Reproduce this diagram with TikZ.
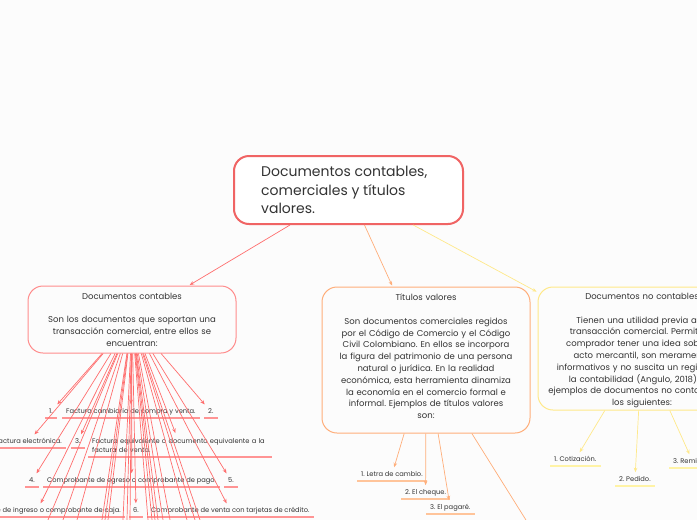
\documentclass[tikz,border=0pt]{standalone}
\usepackage{fontspec}
\setmainfont{Poppins}
\usetikzlibrary{arrows.meta}
\frenchspacing
\definecolor{bg}{HTML}{FCFCFC}
\definecolor{txt}{HTML}{333333}
\definecolor{cred}{HTML}{F06464}
\definecolor{lred}{HTML}{FF6E6E}
\definecolor{ured}{HTML}{FF9494}
\definecolor{bred}{HTML}{FF8C8C}
\definecolor{corg}{HTML}{FFAE7A}
\definecolor{uorg}{HTML}{FFC49A}
\definecolor{cyel}{HTML}{FFE98A}
\definecolor{uyel}{HTML}{FFF3A6}
\tikzset{
  mainbox/.style={draw=cred, line width=2pt, rounded corners=15pt, fill=white,
    minimum width=229pt, minimum height=68pt, inner sep=0pt},
  subbox/.style={draw=#1, line width=1pt, rounded corners=15pt, fill=bg,
    text width=200pt, inner xsep=4pt, inner ysep=0pt, align=center, text=txt,
    font=\fontsize{8.5}{11.8}\selectfont},
  boxtext/.style={text width=200pt, inner sep=0pt, align=center, text=txt,
    font=\fontsize{8.5}{11.8}\selectfont},
  lbl/.style={anchor=south west, inner xsep=4pt, inner ysep=3pt, text depth=1.6pt,
    text height=4.8pt, text=txt, font=\fontsize{6.7}{9.5}\selectfont},
  lblm/.style={anchor=south west, inner xsep=4pt, inner ysep=4pt,
    text=txt, align=left, font=\fontsize{6.7}{9.5}\selectfont},
  con/.style={draw=#1, line width=0.7pt, shorten >=1pt, -{Stealth[length=4.5pt,width=3.6pt]}},
  ulr/.style={draw=ured, line width=1.2pt},
  ulo/.style={draw=uorg, line width=1.2pt},
  uly/.style={draw=uyel, line width=2pt}
}
\begin{document}
\begin{tikzpicture}[x=1pt,y=-1pt]
\fill[bg] (0,0) rectangle (697,520);
\useasboundingbox (0,0) rectangle (697,520);

% root
\node[mainbox] (root) at (348.5,190) {};
\node[anchor=west, text=txt, font=\fontsize{14}{18.5}\selectfont, align=left, inner sep=0pt]
  (rootT) at (261,190) {Documentos contables,\\comerciales y títulos\\valores.};

% main branches
\node[subbox=bred, minimum height=67pt] (dc) at (132,319.5)
  {Documentos contables\\[11.8pt]Son los documentos que soportan una\\transacción comercial, entre ellos se\\encuentran:};
\node[subbox=corg, minimum height=146pt] (tv) at (426,360) {};
\node[boxtext] (tvT) at (426,356.5)
  {Títulos valores\\[11.8pt]Son documentos comerciales regidos\\por el Código de Comercio y el Código\\Civil Colombiano. En ellos se incorpora\\la figura del patrimonio de una persona\\natural o jurídica. En la realidad\\económica, esta herramienta dinamiza\\la economía en el comercio formal e\\informal. Ejemplos de títulos valores\\son:};
\node[subbox=cyel, minimum height=123pt] (nc) at (642,348.5) {};
\node[boxtext] (ncT) at (642,350.5)
  {Documentos no contables\\[11.8pt]Tienen una utilidad previa a la\\transacción comercial. Permite al\\comprador tener una idea sobre el\\acto mercantil, son meramente\\informativos y no suscita un registro en\\la contabilidad (Angulo, 2018). Los\\ejemplos de documentos no contables son\\los siguientes:};

\draw[con=lred] (root) -- (dc);
\draw[con=corg] (root) -- (tv);
\draw[con=cyel] (root) -- (nc);

% Documentos contables children
\node[lbl] (l1) at (45,418) {1.};
\node[lbl] (l2) at (62,418) {Factura cambiaria de compra y venta.};
\node[lbl] (l3) at (204,418) {2.};
\node[lbl, anchor=south east] (l4) at (66,448) {Factura electrónica.};
\node[lbl] (l5) at (71,448) {3.};
\node[lblm, text width=176pt] (l6) at (88,457) {Factura equivalente o documento equivalente a la\\factura de venta.};
\node[lbl] (l7) at (25,487) {4.};
\node[lbl] (l8) at (43,487) {Comprobante de egreso o comprobante de pago.};
\node[lbl] (l9) at (224,487) {5.};
\node[lbl, anchor=south east] (l10) at (125,517) {Comprobante de ingreso o comprobante de caja.};
\node[lbl] (l11) at (129,517) {6.};
\node[lbl] (l12) at (147,517) {Comprobante de venta con tarjetas de crédito.};

\foreach \n in {l1,l2,l3,l4,l5,l6,l7,l8,l9,l10,l11,l12} {
  \draw[ulr] (\n.south west) -- (\n.south east);
  \draw[con=lred] (dc) -- (\n);
}

% lines towards children below the picture
\foreach \i/\x in {1/31.2, 2/49.2, 3/66, 4/96, 5/99.6, 6/103.2, 7/121.2, 8/126, 9/129.6,
  10/151.2, 11/156, 12/159.6, 13/163.2, 14/169.2, 15/177.6, 16/198, 17/207.6, 18/213.6} {
  \coordinate (h\i) at (\x,560);
  \draw[con=lred] (dc) -- (h\i);
}

% Títulos valores children
\node[lbl] (t1) at (357,481) {1. Letra de cambio.};
\node[lbl] (t2) at (401,499) {2. El cheque.};
\node[lbl] (t3) at (426,514) {3. El pagaré.};
\coordinate (t4) at (551,560);
\foreach \n in {t1,t2,t3} {
  \draw[ulo] (\n.south west) -- (\n.south east);
  \draw[con=corg] (tv) -- (\n);
}
\draw[con=corg] (tv) -- (t4);

% Documentos no contables children
\node[lbl] (n1) at (550,466) {1. Cotización.};
\node[lbl] (n2) at (615,486) {2. Pedido.};
\node[lbl] (n3) at (669,468) {3. Remisión.};
\foreach \n in {n1,n2,n3} {
  \draw[uly] (\n.south west) -- (\n.south east);
  \draw[con=cyel] (nc) -- (\n);
}
\end{tikzpicture}
\end{document}
